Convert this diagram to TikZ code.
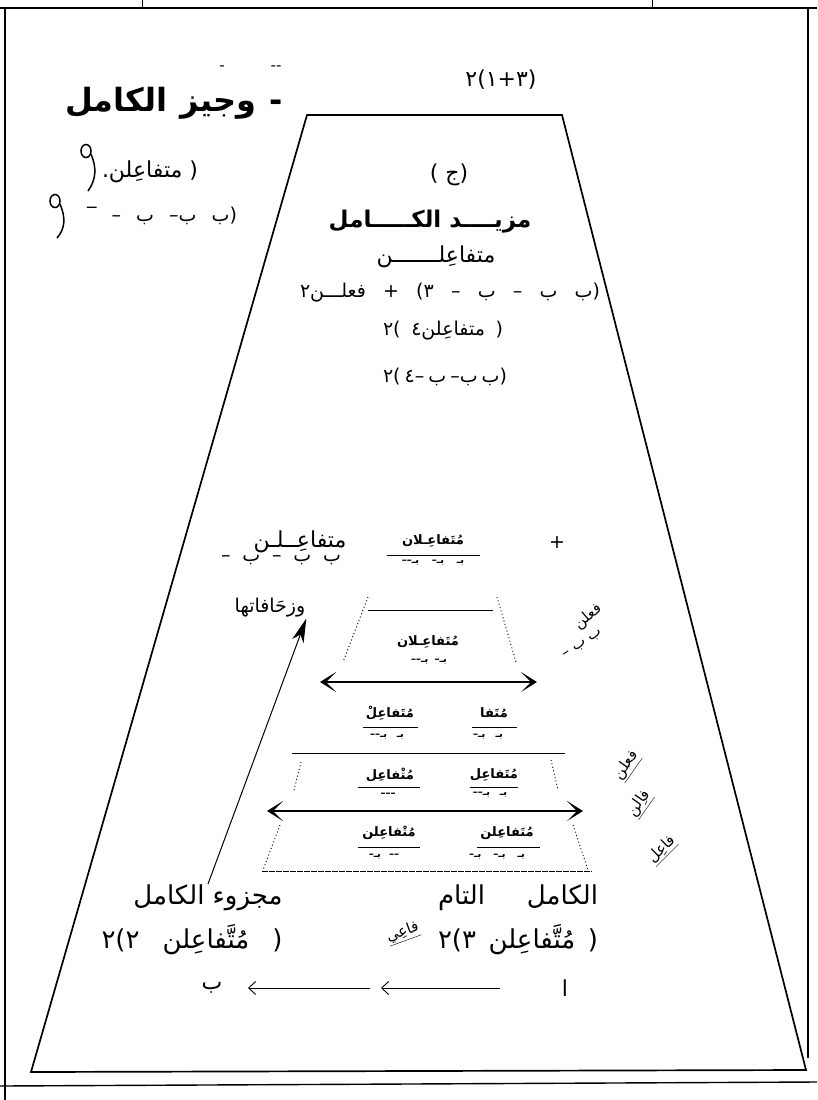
\documentclass[tikz,border=0pt]{standalone}
\usepackage{fontspec}
\setmainfont{DejaVu Sans}
\newfontfamily\lat{DejaVu Sans}
\newfontfamily\ar[Script=Arabic]{DejaVu Sans}
\TeXXeTstate=1
\usetikzlibrary{arrows.meta}
\newcommand\A[1]{\hbox{\ar #1}}
\newcommand\h[1]{\hbox{#1}}
\newcommand\B{\A{بـ}}
\newcommand\W[2]{\makebox[#1pt][s]{#2}}
\newcommand\F[2]{\makebox[#1pt]{#2}}
\begin{document}
\begin{tikzpicture}[x=1pt,y=-1pt,
  every node/.style={inner sep=0pt,outer sep=1pt},
  txt/.style={font=\lat\fontsize{22}{26}\selectfont},
  low/.style={font=\lat\fontsize{26}{30}\selectfont},
  mid/.style={font=\lat\fontsize{19}{22}\selectfont},
  bigt/.style={font=\lat\bfseries\fontsize{23}{28}\selectfont},
  ttl/.style={font=\lat\bfseries\fontsize{32}{36}\selectfont},
  sty/.style={font=\lat\bfseries\fontsize{13}{15}\selectfont},
  scn/.style={font=\lat\bfseries\fontsize{10}{12}\selectfont},
  hand/.style={font=\lat\fontsize{15}{16}\selectfont},
  edge/.style={line width=1.7pt},
  frm/.style={line width=1.4pt},
  rule/.style={line width=0.9pt},
  dots/.style={line width=0.9pt, dash pattern=on 1pt off 2.5pt},
  dbl/.style={line width=1.3pt, {Stealth[length=16pt,width=20pt,inset=10pt]}-{Stealth[length=16pt,width=20pt,inset=10pt]}},
  bigarrow/.style={line width=1pt, -{Stealth[length=24pt,width=12pt,inset=7pt]}},
  smallarrow/.style={line width=0.9pt, -{Straight Barb[length=7pt,width=13pt]}},
]
\useasboundingbox (0,0) rectangle (817,1100);
\fill[white] (0,0) rectangle (817,1100);
% outer frame
\draw[frm] (0,8) -- (817,8);
\draw[frm] (5,8) -- (5,1100);
\draw[frm] (808,8) -- (808,1058);
\draw[frm] (0,1086) -- (817,1082);
\draw[rule] (142,0) -- (142,8);
\draw[rule] (652,0) -- (652,8);
% trapezoid
\draw[edge] (307,115) -- (562,115) -- (806,1070) -- (31,1072) -- cycle;
% top labels
\node[txt] (lbl) at (501,80) {\h{٢}(\h{١}+\h{٣})};
\node[ttl] (title) at (174,103) {\W{218}{\A{الكامل}\ \A{وجيز}\ -}};
\node[hand] (dsh1) at (222,68) {-};
\node[hand] (dsh2) at (276,68) {--};
% hand marks
\draw[line width=1.5pt] (86,151) circle[x radius=5, y radius=6.5];
\draw[line width=1.5pt] (91,154) .. controls (97,168) and (96,180) .. (88,191);
\draw[line width=1.5pt] (55,201) circle[x radius=5, y radius=6.5];
\draw[line width=1.5pt] (60,204) .. controls (66,218) and (65,229) .. (57,238);
\node[txt,anchor=west] (q1) at (101,172) {.\A{متفاعِلن}\ )};
\node[mid] (q2) at (162,216) {\W{150}{‾\ –\ \A{ب}\ –\A{ب}\ \A{ب})}};
% central text
\node[txt] (jim) at (449,175) {(\ \A{ج})};
\node[bigt] (mazid) at (430,222) {\A{الكـــــامل}\ \A{مزيــــد}};
\node[txt] (mt) at (436,257) {\A{متفاعِلـــــــن}};
\node[mid] (l4) at (450,293) {\W{300}{\h{٢}\A{فعلـــن}\ +\ (\h{٣}\ –\ \A{ب}\ –\ \A{ب}\ \A{ب})}};
\node[mid] (l5) at (443,331) {\W{120}{\h{٢}(\ \h{٤}\A{متفاعِلن}\ )}};
\node[mid] (l6) at (444,377) {\W{122}{\h{٢}(\ \h{٤}–\ \A{ب}\ –\A{ب}\ \A{ب})}};
% left middle
\node[txt] (mt2) at (300,542) {\A{متفاعِــلـن}};
\node[mid] (bb) at (281,560) {\W{120}{–\ \A{ب}\ –\ \A{ب}\ \A{ب}}};
\node[mid] (vz) at (270,608) {\A{وزحَافاتها}};
\node[mid] (plus) at (557,543) {+};
% stylized rows
\node[sty] (s1) at (433,541) {\A{مُتَفاعِـلان}};
\draw[rule] (387,555) -- (480,555);
\node[scn] (s1b) at (433,563) {\F{88}{––\B\hfil–\B\hfil\B}};
\draw[rule] (368,610) -- (493,610);
\draw[dots] (368,597) -- (343,662);
\draw[dots] (497,597) -- (516,662);
\node[sty] (s2) at (428,642) {\A{مُتَفاعِـلان}};
\node[scn] (s2b) at (429,662) {\F{48}{––\B\hfil–\B}};
\coordinate (a1l) at (320,682);
\coordinate (a1r) at (537,682);
\draw[dbl] (a1l) -- (a1r);
\node[sty] (s3l) at (390,713) {\A{مُتَفاعِلْ}};
\draw[rule] (363,727) -- (418,727);
\node[scn] (s3lb) at (387,737) {\F{53}{––\B\hfil\B}};
\node[sty] (s3r) at (494,713) {\A{مُتَفا}};
\draw[rule] (472,727) -- (517,727);
\node[scn] (s3rb) at (488,737) {\F{50}{–\B\hfil\B}};
\draw[rule] (292,753) -- (565,753);
\node[sty] (s4l) at (390,775) {\A{مُتْفاعِل}};
\draw[rule] (358,787) -- (420,787);
\node[scn] (s4lb) at (388,795) {–––};
\node[sty] (s4r) at (494,775) {\A{مُتَفاعِل}};
\draw[rule] (470,787) -- (518,787);
\node[scn] (s4rb) at (490,795) {\F{54}{––\B\hfil\B}};
\draw[dots] (301,762) -- (294,790);
\draw[dots] (551,760) -- (558,790);
\coordinate (a2l) at (267,811);
\coordinate (a2r) at (583,811);
\draw[dbl] (a2l) -- (a2r);
\node[sty] (s5l) at (389,833) {\A{مُتْفاعِلن}};
\draw[rule] (358,847) -- (420,847);
\node[scn] (s5lb) at (384,857) {\F{47}{–\B\hfil––}};
\node[sty] (s5r) at (507,833) {\A{مُتَفاعِلن}};
\draw[rule] (477,847) -- (540,847);
\node[scn] (s5rb) at (497,857) {\F{80}{–\B\hfil–\B\hfil\B}};
\draw[dots] (280,825) -- (263,870);
\draw[dots] (573,825) -- (588,870);
\draw[line width=1pt, dash pattern=on 6pt off 1pt] (262,871) -- (592,871);
% rotated hand labels
\node[hand,rotate=40] (f1) at (588,617) {\A{فعلن}};
\node[hand,rotate=35] (f1b) at (583,645) {–\ \A{ب}\ \A{ب}};
\node[hand,rotate=55] (f2) at (627,766) {\underline{\A{فعلن}}};
\node[hand,rotate=55] (f3) at (640,804) {\underline{\A{فاِلن}}};
\node[hand,rotate=45] (f4) at (662,850) {\underline{\A{فاعِل}}};
\node[hand,rotate=20] (f5) at (403,933) {\underline{\A{فاعِي}}};
% bottom texts
\node[low] (mk) at (208,898) {\A{الكامل}\ \A{مجزوء}};
\node[low] (mk2) at (192,940) {\W{181}{\h{٢}(\h{٢}\ \A{مُتَّفاعِلن}\ )}};
\node[low] (kt) at (518,898) {\W{160}{\A{التام}\ \A{الكامل}}};
\node[low] (kt2) at (518,940) {\W{160}{\h{٢}(\h{٣}\ \A{مُتَّفاعِلن}\ )}};
\draw[bigarrow] (mk.north) -- (vz.south east);
\node[txt] (bend) at (212,988) {\A{ب}};
\node[txt] (alif) at (565,988) {\A{ا}};
\coordinate (c1s) at (370,988);
\coordinate (c1e) at (248,988);
\coordinate (c2s) at (500,988);
\coordinate (c2e) at (381,988);
\draw[smallarrow] (c1s) -- (c1e);
\draw[smallarrow] (c2s) -- (c2e);
\end{tikzpicture}
\end{document}
